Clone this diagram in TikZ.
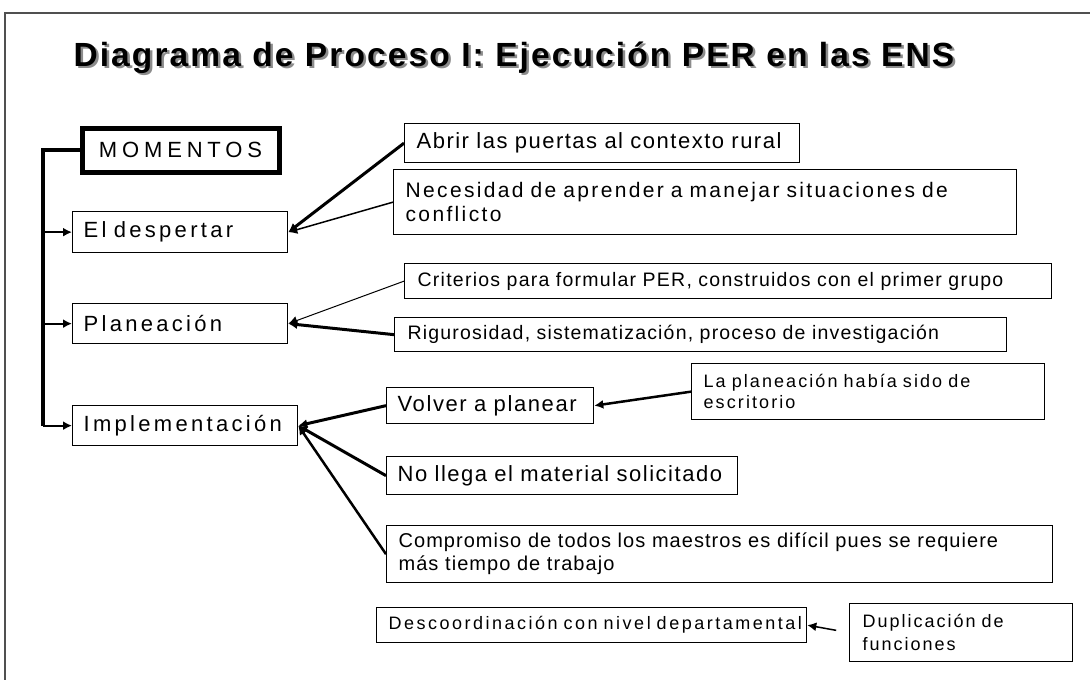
\documentclass[tikz,border=0pt]{standalone}
\usepackage{fontspec}
\setmainfont{Liberation Sans}
\usetikzlibrary{arrows.meta}

\definecolor{shadowgray}{RGB}{140,140,140}
\definecolor{framegray}{RGB}{80,80,80}
\newcommand{\shadowed}[1]{\rlap{\hspace{2.5pt}\raisebox{-2.5pt}{\textcolor{shadowgray}{#1}}}#1}
\newcommand{\spaced}[3]{\fontsize{#1}{#2}\selectfont\addfontfeature{LetterSpace=#3}}

\begin{document}
\begin{tikzpicture}[x=1pt, y=-1pt,
	box/.style={draw, line width=1.3pt, anchor=north west, inner ysep=0pt, align=left},
	lbox/.style={box, inner xsep=11pt, font=\spaced{22}{26}{15}},
	arr/.style={-{Latex[length=9pt,width=9pt]}},
	]
	\useasboundingbox (0,0) rectangle (1090,680);
	\draw [framegray, line width=2pt] (5,680) -- (5,13) -- (1090,13);

	\node (title) at (70,66) [anchor=base west, font=\bfseries\spaced{33.5}{40}{6.3}] {\shadowed{Diagrama de Proceso I: Ejecución PER en las ENS}};

	\node (mom) at (79.5,125.5) [box, line width=5pt, minimum width=197pt, minimum height=44pt, inner xsep=0pt, font=\spaced{22}{26}{22}] {MOMENTOS};
	\node (desp) at (72,211) [lbox, minimum width=215pt, minimum height=41pt, text width=193pt] {El despertar};
	\node (plan) at (72,303) [lbox, minimum width=215pt, minimum height=40pt, text width=193pt] {Planeación};
	\node (impl) at (72,405) [lbox, minimum width=225pt, minimum height=40pt, text width=203pt] {Implementación};

	\node (abrir) at (404,123) [box, inner xsep=12pt, minimum width=395pt, minimum height=39pt, text width=371pt, font=\spaced{22}{26}{6.8}] {Abrir las puertas al contexto rural};
	\node (neces) at (393,169) [box, inner xsep=12pt, minimum width=623pt, minimum height=65pt, text width=599pt, font=\spaced{21}{24}{11.2}] {Necesidad de aprender a manejar situaciones de\\conflicto};
	\node (crit) at (404,263) [box, inner xsep=13pt, minimum width=647pt, minimum height=35pt, text width=621pt, font=\spaced{19.5}{23}{6.4}] {Criterios para formular PER, construidos con el primer grupo};
	\node (rigur) at (394,317) [box, inner xsep=13pt, minimum width=612pt, minimum height=34pt, text width=586pt, font=\spaced{19.5}{23}{6.1}] {Rigurosidad, sistematización, proceso de investigación};

	\node (volver) at (386,387) [box, inner xsep=11pt, minimum width=207pt, minimum height=36pt, text width=185pt, font=\spaced{22}{26}{7.3}] {Volver a planear};
	\node (lapl) at (691,363) [box, inner xsep=12pt, minimum width=353pt, minimum height=56pt, text width=329pt, font=\spaced{18}{21}{11.6}] {La planeación había sido de\\escritorio};
	\node (nollega) at (386,456) [box, inner xsep=11pt, minimum width=351pt, minimum height=38pt, text width=329pt, font=\spaced{22}{26}{6.9}] {No llega el material solicitado};
	\node (compr) at (386,525) [box, inner xsep=12pt, minimum width=666pt, minimum height=57pt, text width=642pt, font=\spaced{20}{23}{5.2}] {Compromiso de todos los maestros es difícil pues se requiere\\más tiempo de trabajo};
	\node (desco) at (376,607) [box, inner xsep=12pt, minimum width=430pt, minimum height=35pt, text width=406pt, font=\spaced{18}{21}{13.9}] {Descoordinación con nivel departamental};
	\node (dupli) at (849,603) [box, inner xsep=13pt, minimum width=223pt, minimum height=58pt, text width=197pt, font=\spaced{18}{23}{11.1}] {Duplicación de\\funciones};

	\coordinate (rail) at (43,0);
	\draw [line width=3.5pt, line join=miter] (mom.west) -| (impl.west -| rail);
	\draw [arr, line width=2pt] (desp.west -| rail) -- (desp.west);
	\draw [arr, line width=2pt] (plan.west -| rail) -- (plan.west);
	\draw [arr, line width=2pt] (impl.west -| rail) -- (impl.west);

	\draw [arr, line width=3pt] (abrir.west) -- (desp.east);
	\draw [arr, line width=1.5pt] (neces.west) -- (desp.east);
	\draw [arr, line width=1pt] (crit.west) -- (plan.east);
	\draw [arr, line width=3pt] (rigur.west) -- (plan.east);

	\draw [arr, line width=3pt] (volver.west) -- (impl.east);
	\draw [arr, line width=2.5pt] (lapl.west) -- (volver.east);
	\draw [arr, line width=3pt] (nollega.west) -- (impl.east);
	\draw [arr, line width=2.5pt] (compr.west) -- (impl.east);
	\draw [arr, line width=1.5pt, shorten <=13pt] (dupli.west) -- (desco.east);
\end{tikzpicture}
\end{document}
